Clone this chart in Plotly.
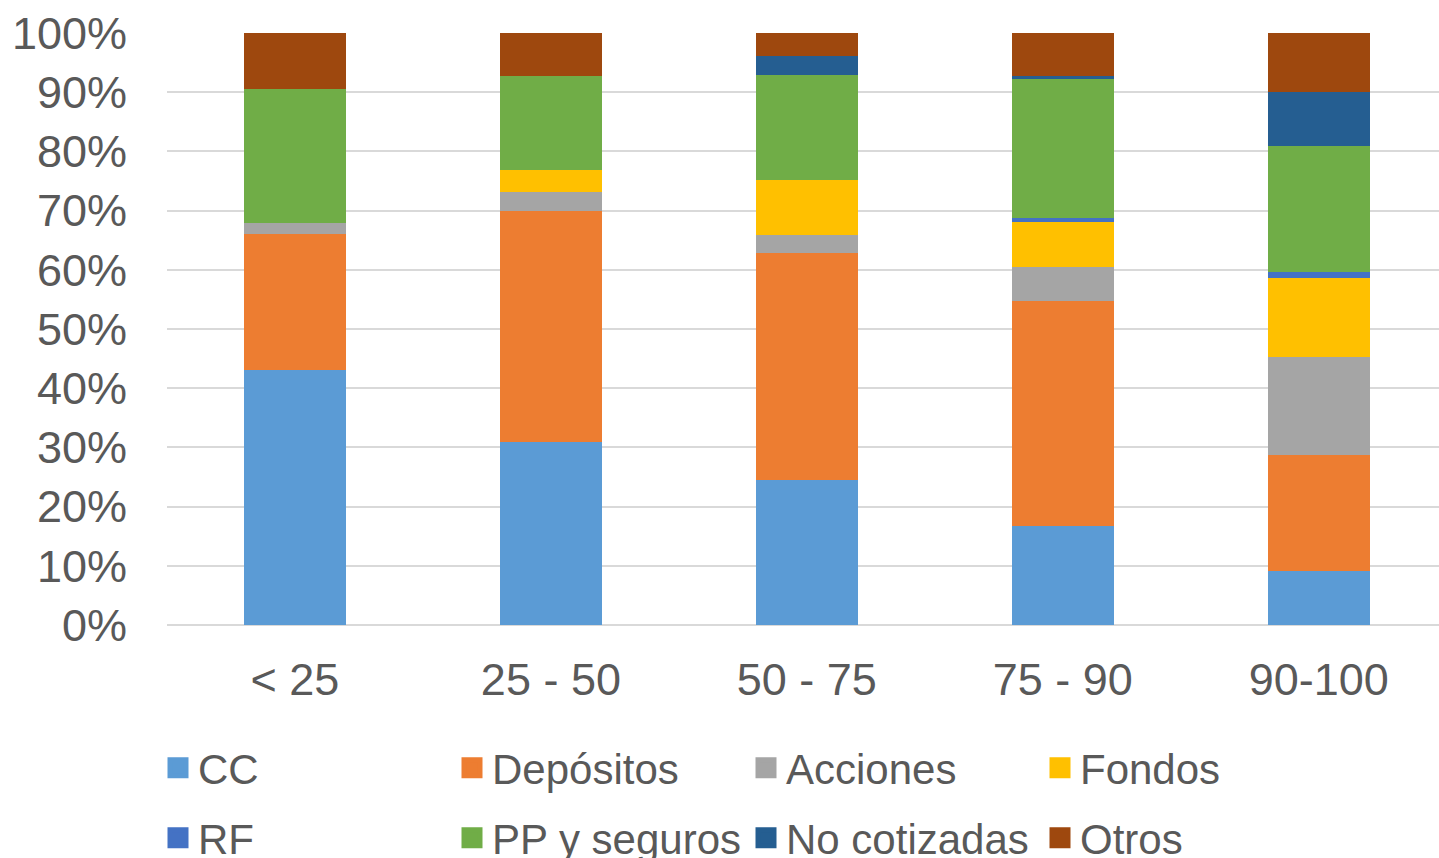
import plotly.graph_objects as go

categories = ["< 25", "25 - 50", "50 - 75", "75 - 90", "90-100"]

cc = [43.1, 30.9, 24.5, 16.7, 9.2]
depositos = [22.9, 39.1, 38.4, 38.0, 19.6]
acciones = [1.9, 3.1, 3.0, 5.7, 16.5]
fondos = [0.0, 3.8, 9.2, 7.7, 13.4]
rf = [0.0, 0.0, 0.0, 0.6, 1.0]
pp_seguros = [22.6, 15.9, 17.8, 23.5, 21.2]
no_cotizadas = [0.0, 0.0, 3.2, 0.6, 9.1]
otros = [9.5, 7.2, 3.9, 7.2, 10.0]

series = [
    ("CC", cc, "#5B9BD5", "legend"),
    ("Depósitos", depositos, "#ED7D31", "legend"),
    ("Acciones", acciones, "#A5A5A5", "legend"),
    ("Fondos", fondos, "#FFC000", "legend"),
    ("RF", rf, "#4472C4", "legend2"),
    ("PP y seguros", pp_seguros, "#70AD47", "legend2"),
    ("No cotizadas", no_cotizadas, "#255E91", "legend2"),
    ("Otros", otros, "#9E480E", "legend2"),
]

FONT = "Liberation Sans, Arial, sans-serif"
TEXT = "#595959"

fig = go.Figure()
for name, vals, color, lg in series:
    # stacked bar segment
    fig.add_trace(go.Bar(
        x=categories,
        y=[v / 100 for v in vals],
        name=name,
        marker=dict(color=color, line=dict(width=0)),
        width=0.4,
        showlegend=False,
        legendgroup=name,
    ))
    # square legend key for the series
    fig.add_trace(go.Scatter(
        x=[None],
        y=[None],
        mode="markers",
        name=name,
        marker=dict(symbol="square", size=16, color=color,
                    line=dict(color=color, width=5)),
        legend=lg,
        legendgroup=name,
        hoverinfo="skip",
    ))

legend_common = dict(
    orientation="h",
    traceorder="normal",
    font=dict(family=FONT, size=42, color=TEXT),
    entrywidth=249,
    entrywidthmode="pixels",
    itemwidth=30,
    xref="container",
    yref="container",
    xanchor="left",
    yanchor="middle",
    bgcolor="rgba(0,0,0,0)",
)

fig.update_layout(
    width=1439,
    height=858,
    margin=dict(l=167, r=0, t=33, b=233, autoexpand=False),
    barmode="stack",
    plot_bgcolor="white",
    paper_bgcolor="white",
    font=dict(family=FONT, size=42, color=TEXT),
    legend=dict(legend_common, x=0.1098, y=0.1049),
    legend2=dict(legend_common, x=0.1098, y=0.0233),
    xaxis=dict(
        type="category",
        range=[-0.5, 4.47],
        showgrid=False,
        showline=False,
        ticks="",
        tickfont=dict(family=FONT, size=45, color=TEXT),
        ticklabelstandoff=24,
    ),
    yaxis=dict(
        range=[0, 1],
        tickvals=[i / 10 for i in range(11)],
        tickformat=".0%",
        showgrid=True,
        gridcolor="#D9D9D9",
        gridwidth=2,
        zeroline=True,
        zerolinecolor="#D9D9D9",
        zerolinewidth=2,
        ticks="",
        tickfont=dict(family=FONT, size=45, color=TEXT),
        ticklabelstandoff=39,
    ),
    showlegend=True,
)

fig.write_html("out.html")
